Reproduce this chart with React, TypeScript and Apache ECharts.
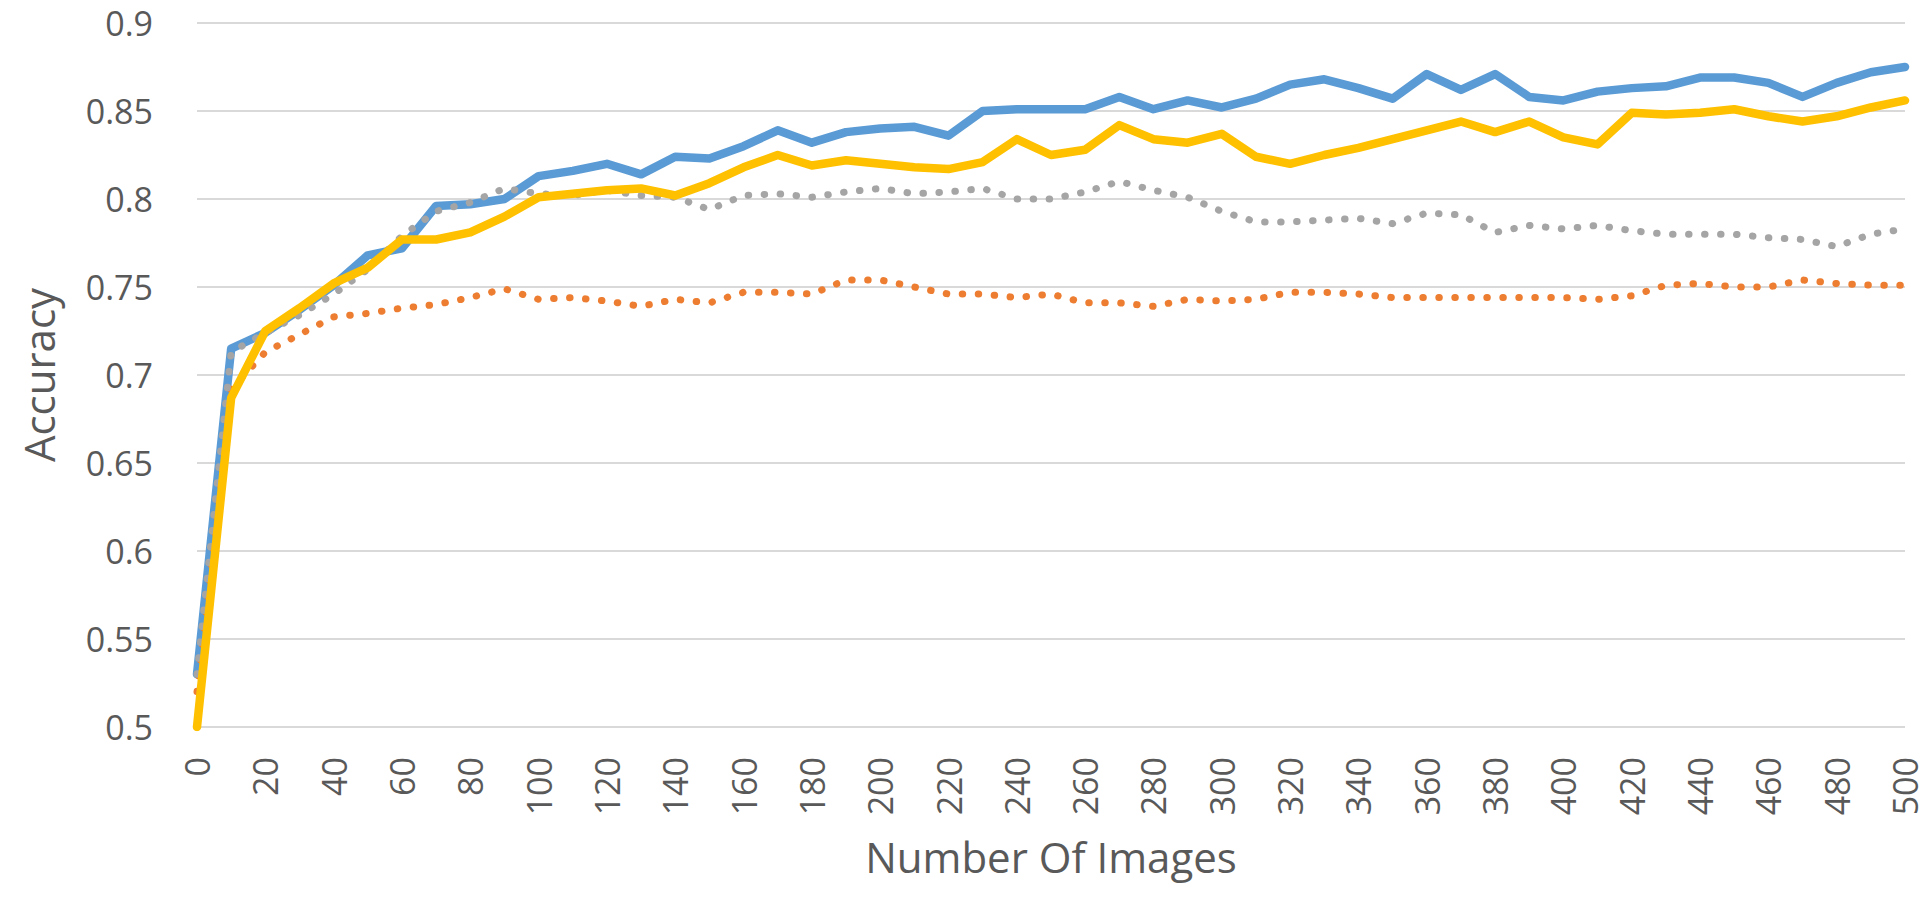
import React, { useEffect, useRef } from "react";
import * as echarts from "echarts";

const imageCounts: string[] = [
  "0","10","20","30","40","50","60","70","80","90",
  "100","110","120","130","140","150","160","170","180","190",
  "200","210","220","230","240","250","260","270","280","290",
  "300","310","320","330","340","350","360","370","380","390",
  "400","410","420","430","440","450","460","470","480","490","500",
];

const blueSeries: number[] = [
  0.53, 0.715, 0.724, 0.737, 0.751, 0.768, 0.772, 0.796, 0.797, 0.800,
  0.813, 0.816, 0.820, 0.814, 0.824, 0.823, 0.830, 0.839, 0.832, 0.838,
  0.840, 0.841, 0.836, 0.850, 0.851, 0.851, 0.851, 0.858, 0.851, 0.856,
  0.852, 0.857, 0.865, 0.868, 0.863, 0.857, 0.871, 0.862, 0.871, 0.858,
  0.856, 0.861, 0.863, 0.864, 0.869, 0.869, 0.866, 0.858, 0.866, 0.872, 0.875,
];

const orangeSeries: number[] = [
  0.52, 0.692, 0.713, 0.723, 0.733, 0.735, 0.738, 0.740, 0.744, 0.749,
  0.743, 0.744, 0.742, 0.739, 0.743, 0.741, 0.747, 0.747, 0.746, 0.754,
  0.754, 0.750, 0.746, 0.746, 0.744, 0.746, 0.741, 0.741, 0.739, 0.743,
  0.742, 0.743, 0.747, 0.747, 0.746, 0.744, 0.744, 0.744, 0.744, 0.744,
  0.744, 0.743, 0.745, 0.751, 0.752, 0.750, 0.750, 0.754, 0.752, 0.751, 0.751,
];

const graySeries: number[] = [
  0.53, 0.713, 0.724, 0.734, 0.746, 0.760, 0.779, 0.793, 0.798, 0.806,
  0.803, 0.802, 0.805, 0.802, 0.801, 0.794, 0.802, 0.803, 0.801, 0.804,
  0.806, 0.803, 0.804, 0.806, 0.800, 0.800, 0.804, 0.810, 0.805, 0.801,
  0.793, 0.787, 0.787, 0.788, 0.789, 0.786, 0.792, 0.791, 0.781, 0.785,
  0.783, 0.785, 0.782, 0.780, 0.780, 0.780, 0.778, 0.777, 0.773, 0.780, 0.783,
];

const yellowSeries: number[] = [
  0.50, 0.687, 0.725, 0.738, 0.752, 0.761, 0.777, 0.777, 0.781, 0.790,
  0.801, 0.803, 0.805, 0.806, 0.802, 0.809, 0.818, 0.825, 0.819, 0.822,
  0.820, 0.818, 0.817, 0.821, 0.834, 0.825, 0.828, 0.842, 0.834, 0.832,
  0.837, 0.824, 0.820, 0.825, 0.829, 0.834, 0.839, 0.844, 0.838, 0.844,
  0.835, 0.831, 0.849, 0.848, 0.849, 0.851, 0.847, 0.844, 0.847, 0.852, 0.856,
];

const FONT = "'Open Sans', 'Noto Sans', sans-serif";
const TEXT = "#595959";

export default function App() {
  const ref = useRef<HTMLDivElement>(null);

  useEffect(() => {
    document.body.style.margin = "0";
    if (!ref.current) return;
    const chart = echarts.init(ref.current, undefined, { renderer: "svg" });

    const solid = (name: string, data: number[], color: string) => ({
      name,
      type: "line",
      data,
      showSymbol: false,
      symbol: "none",
      lineStyle: { color, width: 8.5, join: "round", cap: "round" },
      itemStyle: { color },
      z: 2,
    });
    const dotted = (name: string, data: number[], color: string) => ({
      name,
      type: "line",
      data,
      showSymbol: false,
      symbol: "none",
      lineStyle: { color, width: 7, type: [0.5, 15.5], cap: "round", join: "round" },
      itemStyle: { color },
      z: 2,
    });

    chart.setOption({
      animation: false,
      backgroundColor: "#ffffff",
      grid: { left: 197, right: 24, top: 23, bottom: 174, containLabel: false },
      xAxis: {
        type: "category",
        data: imageCounts,
        boundaryGap: false,
        name: "Number Of Images",
        nameLocation: "middle",
        nameGap: 108,
        nameTextStyle: { color: TEXT, fontSize: 42, fontFamily: FONT },
        axisLine: { show: false },
        axisTick: { show: false },
        splitLine: { show: false },
        axisLabel: {
          interval: 1,
          rotate: 90,
          margin: 30,
          color: TEXT,
          fontSize: 34,
          lineHeight: 28,
          fontFamily: FONT,
        },
      },
      yAxis: {
        type: "value",
        min: 0.5,
        max: 0.9,
        interval: 0.05,
        name: "Accuracy",
        nameLocation: "middle",
        nameGap: 138,
        nameTextStyle: { color: TEXT, fontSize: 42, fontFamily: FONT },
        axisLine: { show: false },
        axisTick: { show: false },
        splitLine: { show: true, lineStyle: { color: "#D9D9D9", width: 2 } },
        axisLabel: {
          margin: 44,
          color: TEXT,
          fontSize: 34,
          lineHeight: 28,
          fontFamily: FONT,
          formatter: (v: number) => String(Number(v.toFixed(2))),
        },
      },
      series: [
        solid("Series 1", blueSeries, "#5B9BD5"),
        dotted("Series 2", orangeSeries, "#ED7D31"),
        dotted("Series 3", graySeries, "#A5A5A5"),
        solid("Series 4", yellowSeries, "#FFC000"),
      ],
    });

    return () => chart.dispose();
  }, []);

  return <div ref={ref} style={{ width: 1929, height: 901 }} />;
}
